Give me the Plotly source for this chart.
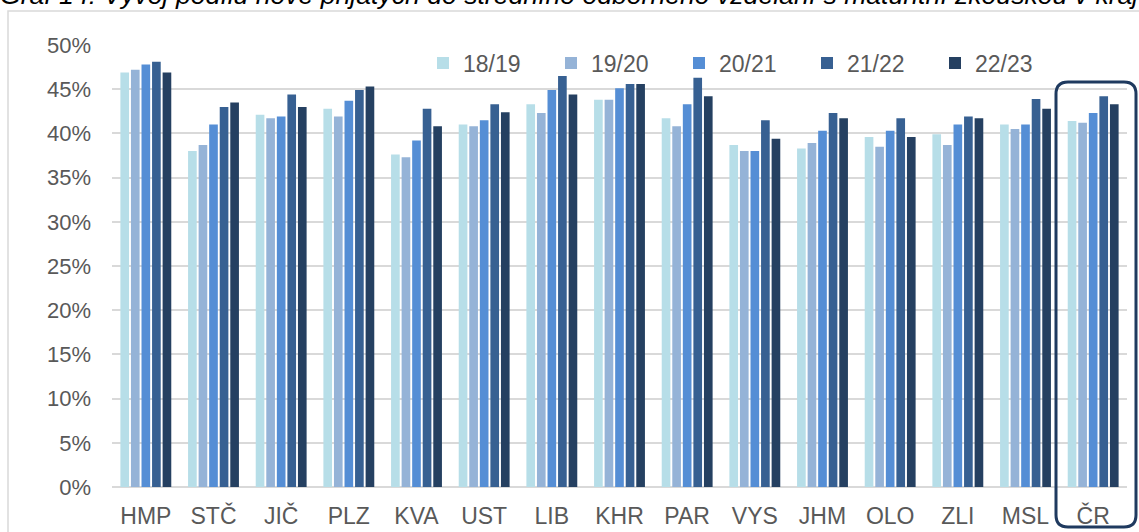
import plotly.graph_objects as go

categories = ["HMP", "STČ", "JIČ", "PLZ", "KVA", "UST", "LIB", "KHR", "PAR",
              "VYS", "JHM", "OLO", "ZLI", "MSL", "ČR"]
series_names = ["18/19", "19/20", "20/21", "21/22", "22/23"]

v_18_19 = [46.9, 38.0, 42.1, 42.8, 37.6, 41.0, 43.3, 43.8, 41.7, 38.7, 38.3, 39.6, 39.9, 41.0, 41.4]
v_19_20 = [47.2, 38.7, 41.7, 41.9, 37.3, 40.8, 42.3, 43.8, 40.8, 38.0, 38.9, 38.5, 38.7, 40.5, 41.2]
v_20_21 = [47.8, 41.0, 41.9, 43.7, 39.2, 41.5, 44.9, 45.1, 43.3, 38.0, 40.3, 40.3, 41.0, 41.0, 42.3]
v_21_22 = [48.1, 43.0, 44.4, 44.9, 42.8, 43.3, 46.5, 45.6, 46.3, 41.5, 42.3, 41.7, 41.9, 43.9, 44.2]
v_22_23 = [46.9, 43.5, 43.0, 45.3, 40.8, 42.4, 44.4, 45.6, 44.2, 39.4, 41.7, 39.6, 41.7, 42.8, 43.3]

series_values = [v_18_19, v_19_20, v_20_21, v_21_22, v_22_23]
colors = ["#B7DEE8", "#95B3D7", "#558ED5", "#376092", "#254061"]

title_text = ("Graf 14: Vývoj podílu nově přijatých do středního odborného vzdělání "
              "s maturitní zkouškou v krajích")

W, H = 1139, 532
L, R, T, B = 112, 12, 45, 45
PW, PH = W - L - R, H - T - B


def px(x):
    return (x - L) / PW


def py(y):
    return (H - B - y) / PH


fig = go.Figure()
for name, vals, col in zip(series_names, series_values, colors):
    fig.add_trace(go.Bar(
        x=categories, y=[v / 100 for v in vals], name=name,
        marker=dict(color=col, line=dict(width=0)),
    ))

# rounded rectangle around the ČR group
x0, x1, y0, y1, r = 1056, 1136, 82, 527, 12
path = (f"M {px(x0 + r)},{py(y0)} L {px(x1 - r)},{py(y0)} "
        f"Q {px(x1)},{py(y0)} {px(x1)},{py(y0 + r)} "
        f"L {px(x1)},{py(y1 - r)} Q {px(x1)},{py(y1)} {px(x1 - r)},{py(y1)} "
        f"L {px(x0 + r)},{py(y1)} Q {px(x0)},{py(y1)} {px(x0)},{py(y1 - r)} "
        f"L {px(x0)},{py(y0 + r)} Q {px(x0)},{py(y0)} {px(x0 + r)},{py(y0)} Z")

shapes = [
    dict(type="rect", xref="paper", yref="paper",
         x0=px(8), x1=px(1160), y0=py(11), y1=py(560),
         line=dict(color="#D9D9D9", width=1.5), layer="below"),
    dict(type="path", xref="paper", yref="paper", path=path,
         line=dict(color="#1F3A5F", width=3)),
]

fig.update_layout(
    width=W, height=H,
    margin=dict(l=L, r=R, t=T, b=B, autoexpand=False),
    paper_bgcolor="white", plot_bgcolor="white",
    barmode="group", bargap=0.22, bargroupgap=0.18,
    font=dict(family="Liberation Sans, Arial, sans-serif", size=23, color="#595959"),
    showlegend=True,
    legend=dict(orientation="h", x=px(423), y=py(63), xanchor="left", yanchor="middle",
                entrywidth=83, entrywidthmode="pixels", itemwidth=30,
                bgcolor="rgba(0,0,0,0)", borderwidth=0,
                font=dict(size=23, color="#595959"),
                traceorder="normal"),
    xaxis=dict(showgrid=False, showline=False, ticks="", ticklabelstandoff=13,
               automargin=False, tickfont=dict(size=23, color="#595959")),
    yaxis=dict(range=[0, 0.5], tickvals=[i * 0.05 for i in range(11)], tickformat=".0%",
               showgrid=True, gridcolor="#D9D9D9", gridwidth=1.5,
               zeroline=True, zerolinecolor="#D9D9D9", zerolinewidth=1.5,
               showline=False, ticks="", ticklabelstandoff=20, automargin=False,
               tickfont=dict(size=22, color="#595959")),
    shapes=shapes,
    annotations=[dict(text=f"<i>{title_text}</i>", xref="paper", yref="paper",
                      x=px(-2), y=py(12), xanchor="left", yanchor="bottom",
                      showarrow=False,
                      font=dict(size=26.6, color="#000000",
                                family="Liberation Sans, Arial, sans-serif"))],
)

fig.write_html("out.html",
               config={"displayModeBar": False},
               post_script="document.body.style.margin='0';"
                           "document.body.style.overflow='hidden';")
